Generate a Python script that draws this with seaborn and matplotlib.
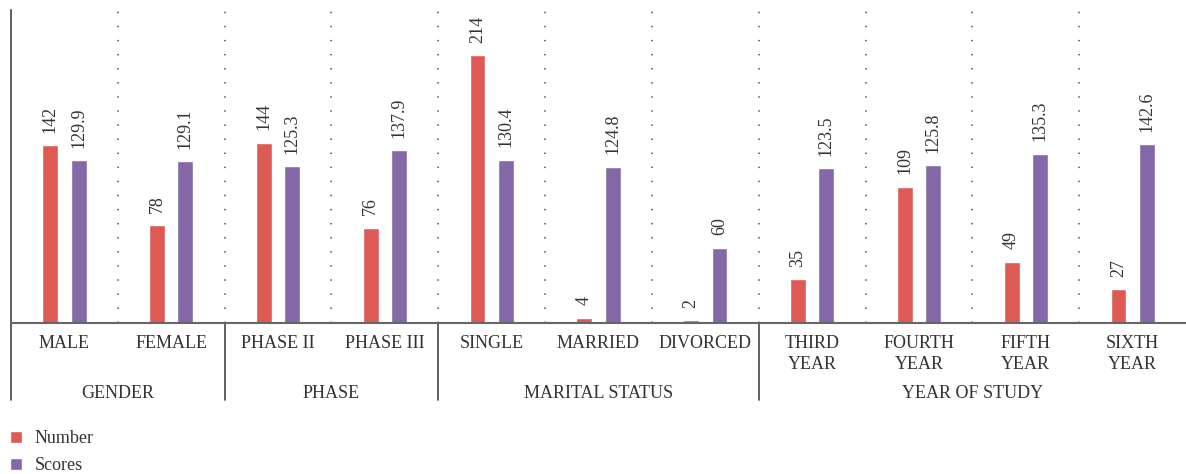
import seaborn as sns
import matplotlib.pyplot as plt
import matplotlib.transforms as mtransforms
import pandas as pd

# -------------------------
# Data
# -------------------------
categories = ["MALE", "FEMALE", "PHASE II", "PHASE III", "SINGLE", "MARRIED",
              "DIVORCED", "THIRD\nYEAR", "FOURTH\nYEAR", "FIFTH\nYEAR", "SIXTH\nYEAR"]
number = [142, 78, 144, 76, 214, 4, 2, 35, 109, 49, 27]
scores = [129.9, 129.1, 125.3, 137.9, 130.4, 124.8, 60, 123.5, 125.8, 135.3, 142.6]
groups = ["GENDER", "PHASE", "MARITAL STATUS", "YEAR OF STUDY"]
group_sizes = [2, 2, 3, 4]
series = ["Number", "Scores"]

df = pd.DataFrame({
    "category": categories * 2,
    "value": number + scores,
    "series": [series[0]] * len(categories) + [series[1]] * len(categories),
})

# -------------------------
# Styling
# -------------------------
sns.set_style("white")
plt.rcParams["font.family"] = ["Liberation Serif", "DejaVu Serif"]
text_color = "#333333"
palette = {"Number": "#DE5A55", "Scores": "#8468A8"}

fig = plt.figure(figsize=(11.86, 4.74), dpi=100)
ax = fig.add_axes([0.0093, 0.3186, 0.9907, 0.6604])

sns.barplot(data=df, x="category", y="value", hue="series", order=categories,
            hue_order=series, palette=palette, width=0.53, gap=0.44,
            saturation=1, ax=ax)

# value labels
for cont, vals in zip(ax.containers, [number, scores]):
    ax.bar_label(cont, labels=[f"{v:g}" for v in vals], rotation=90,
                 padding=9, fontsize=13, color=text_color)

ax.set_ylim(0, 250)
ax.set_xlim(-0.5, len(categories) - 0.5)
ax.set_yticks([])
ax.set_xlabel("")
ax.set_ylabel("")
ax.tick_params(axis="x", length=0, pad=9, labelsize=13, labelcolor=text_color)
for lbl in ax.get_xticklabels():
    lbl.set_linespacing(1.3)

# dotted separators between categories
ax.set_xticks([i + 0.5 for i in range(len(categories) - 1)], minor=True)
ax.tick_params(axis="x", which="minor", length=0)
ax.grid(which="minor", axis="x", color="#666666", linestyle=(0, (0.8, 7)), linewidth=1.3)

for s in ["top", "right"]:
    ax.spines[s].set_visible(False)
ax.spines["left"].set_color("#444444")
ax.spines["left"].set_linewidth(1.2)
ax.spines["bottom"].set_color("#666666")
ax.spines["bottom"].set_linewidth(1.5)

# group labels and solid separators below the axis
trans = mtransforms.blended_transform_factory(ax.transData, ax.transAxes)
start = 0
for name, size in zip(groups, group_sizes):
    left = start - 0.5
    ax.plot([left, left], [0, -0.246], transform=trans, color="#444444",
            linewidth=1.2, clip_on=False)
    ax.text(start + (size - 1) / 2, -0.224, name, transform=trans, ha="center",
            va="center", fontsize=13, color=text_color)
    start += size

# legend
sns.move_legend(ax, "upper left", bbox_to_anchor=(10 / 1186, 1 - 430 / 474),
                bbox_transform=fig.transFigure, frameon=False, title=None,
                fontsize=13, handlelength=0.65, handleheight=0.65,
                handletextpad=0.7, labelspacing=0.55, borderpad=0, borderaxespad=0)
for t in ax.get_legend().get_texts():
    t.set_color(text_color)

plt.savefig("out.png", dpi=100)
plt.close()
